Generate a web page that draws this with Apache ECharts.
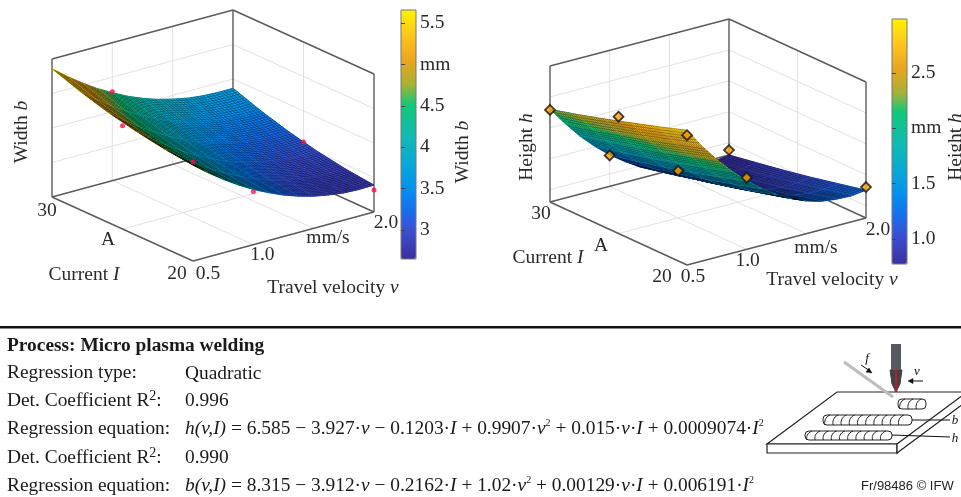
<!DOCTYPE html>
<html>
<head>
<meta charset="utf-8">
<style>html,body{margin:0;padding:0;background:#fff}#c{width:961px;height:497px}</style>
<script src="https://cdn.jsdelivr.net/npm/echarts@6/dist/echarts.min.js"></script>
</head>
<body>
<div id="c"></div>
<script>
// ---------- data ----------
const velocityGrid = [0.5,0.625,0.75,0.875,1,1.125,1.25,1.375,1.5,1.625,1.75,1.875,2];
const currentGrid = [20,22,24,26,28,30];
const widthRows = [
 [4.78,4.44,4.13,3.85,3.60,3.39,3.20,3.05,2.93,2.85,2.79,2.77,2.78],
 [4.87,4.53,4.22,3.94,3.69,3.48,3.29,3.14,3.03,2.94,2.88,2.86,2.87],
 [5.01,4.67,4.36,4.08,3.83,3.62,3.43,3.28,3.17,3.08,3.02,3.00,3.01],
 [5.19,4.85,4.54,4.27,4.02,3.81,3.62,3.47,3.36,3.27,3.22,3.19,3.20],
 [5.43,5.09,4.78,4.51,4.26,4.05,3.86,3.71,3.60,3.51,3.46,3.43,3.44],
 [5.72,5.38,5.07,4.79,4.55,4.33,4.15,4.00,3.89,3.80,3.75,3.73,3.73]
];
const heightRows = [
 [2.98,2.66,2.38,2.13,1.91,1.72,1.56,1.43,1.33,1.26,1.23,1.22,1.25],
 [2.83,2.52,2.24,1.99,1.77,1.59,1.43,1.31,1.21,1.15,1.12,1.12,1.15],
 [2.69,2.38,2.10,1.86,1.64,1.46,1.31,1.19,1.10,1.04,1.01,1.02,1.05],
 [2.55,2.25,1.98,1.73,1.52,1.35,1.20,1.08,0.99,0.94,0.92,0.92,0.96],
 [2.42,2.12,1.86,1.62,1.41,1.24,1.09,0.98,0.90,0.85,0.83,0.84,0.88],
 [2.30,2.01,1.74,1.51,1.31,1.14,0.99,0.89,0.81,0.76,0.74,0.76,0.80]
];
// measured points [v, I, value]
const widthPoints = [[1,30,4.58],[0.5,25,4.99],[0.5,20,4.87],[1,20,3.54],[2,25,3.10],[2,20,2.64]];
const heightPoints = [[0.5,30,2.29],[0.5,25,2.69],[0.5,20,2.90],[1,30,1.30],[1,25,1.56],[1,20,1.96],[2,30,0.88],[2,20,1.30]];
const velocityTicks = [0.5,1,1.5,2];
const velocityLabels = ['0.5','1.0',null,'2.0'];
const currentTicks = [20,25,30];
const currentLabels = ['20',null,'30'];
const widthZTicks = [3,4,5];
const heightZTicks = [1,1.5,2,2.5];
const widthBarTicks = [3,3.5,4,4.5,5,5.5];
const heightBarTicks = [1,1.5,2,2.5];

// ---------- colours ----------
const stopsCol = [[0,'#3b2f9e'],[0.12,'#3a50d4'],[0.2,'#1570ee'],[0.28,'#0090f0'],[0.38,'#08a8d8'],[0.5,'#10bcb0'],[0.62,'#10c878'],[0.7,'#a8b234'],[0.8,'#eba51e'],[0.9,'#ffc61e'],[1,'#fff200']];
function hexRgb(h){return [parseInt(h.substr(1,2),16),parseInt(h.substr(3,2),16),parseInt(h.substr(5,2),16)];}
function cmap(t){
  t=Math.max(0,Math.min(1,t));
  for(let i=1;i<stopsCol.length;i++){
    if(t<=stopsCol[i][0]){
      const a=stopsCol[i-1],b=stopsCol[i],k=(t-a[0])/(b[0]-a[0]);
      const A=hexRgb(a[1]),B=hexRgb(b[1]);
      return [A[0]+(B[0]-A[0])*k,A[1]+(B[1]-A[1])*k,A[2]+(B[2]-A[2])*k];
    }
  }
  return hexRgb('#fff200');
}
function css(c){return 'rgb('+c.map(x=>Math.round(x)).join(',')+')';}
const vmColors=[];for(let i=0;i<=50;i++){vmColors.push(css(cmap(i/50)));}

// ---------- 3-D frames ----------
const leftFrame = {F:[193,261],U:[181,-49],W:[-141,-64],H:138,zMin:2,zMax:6,cMin:2.65,cMax:5.66,rows:widthRows,zTicks:widthZTicks,
  offs:{i20:[-16,13],i30:[-5,14],v:[[15,13],[9,10],null,[12,11]]}};
const rightFrame = {F:[687,265],U:[179,-47],W:[-137,-63],H:136,zMin:0.8,zMax:3,cMin:0.774,cMax:2.988,rows:heightRows,zTicks:heightZTicks,
  offs:{i20:[-25,12],i30:[-9,12],v:[[6,12],[1,12],null,[12,12]]}};
function proj(f,v,I,z){
  const t=(v-0.5)/1.5,s=(I-20)/10,n=(z-f.zMin)/(f.zMax-f.zMin);
  return [f.F[0]+t*f.U[0]+s*f.W[0], f.F[1]+t*f.U[1]+s*f.W[1]-n*f.H];
}
function depth(f,v,I,z){return (v-0.5)/1.5+(I-20)/10-(z-f.zMin)/(f.zMax-f.zMin);}
function cells(f){
  const out=[];
  for(let r=0;r<currentGrid.length-1;r++)for(let c=0;c<velocityGrid.length-1;c++){
    const z=[f.rows[r][c],f.rows[r][c+1],f.rows[r+1][c+1],f.rows[r+1][c]];
    const mid=(z[0]+z[1]+z[2]+z[3])/4;
    const d=depth(f,(velocityGrid[c]+velocityGrid[c+1])/2,(currentGrid[r]+currentGrid[r+1])/2,mid);
    out.push({value:[r,c,mid],d});
  }
  out.sort((a,b)=>b.d-a.d);
  return out.map(o=>o.value);
}
// each data cell is shaded with a fine wire mesh, as the plot's surface is
const MESH_V=5,MESH_I=12;
function surface(f){
  return function(params,api){
    const r=api.value(0),c=api.value(1);
    const v0=velocityGrid[c],v1=velocityGrid[c+1],I0=currentGrid[r],I1=currentGrid[r+1];
    const z00=f.rows[r][c],z01=f.rows[r][c+1],z10=f.rows[r+1][c],z11=f.rows[r+1][c+1];
    const at=(a,b)=>{const v=v0+(v1-v0)*a,I=I0+(I1-I0)*b;
      const z=z00*(1-a)*(1-b)+z01*a*(1-b)+z10*(1-a)*b+z11*a*b;return {v,I,z};};
    const subs=[];
    for(let i=0;i<MESH_I;i++)for(let j=0;j<MESH_V;j++){
      const q=[at(j/MESH_V,i/MESH_I),at((j+1)/MESH_V,i/MESH_I),at((j+1)/MESH_V,(i+1)/MESH_I),at(j/MESH_V,(i+1)/MESH_I)];
      const mz=(q[0].z+q[1].z+q[2].z+q[3].z)/4;
      const mv=(q[0].v+q[2].v)/2,mI=(q[0].I+q[2].I)/2;
      subs.push({q,mz,d:depth(f,mv,mI,mz)});
    }
    subs.sort((a,b)=>b.d-a.d);
    const toXY=p=>api.coord(proj(f,p.v,p.I,p.z));
    const colOf=z=>css(cmap((z-f.cMin)/(f.cMax-f.cMin)));
    // opaque underlay stops the frame shining through the mesh seams
    const ch=[{type:'polygon',silent:true,shape:{points:[at(0,0),at(1,0),at(1,1),at(0,1)].map(toXY)},
      style:{fill:colOf(api.value(2)),stroke:colOf(api.value(2)),lineWidth:1}}];
    subs.forEach(s=>ch.push({type:'polygon',silent:true,shape:{points:s.q.map(toXY)},
      style:{fill:colOf(s.mz),stroke:'rgba(0,0,0,0.42)',lineWidth:0.55}}));
    return {type:'group',children:ch};
  };
}
const GRIDC='#e2e2e2',EDGE='#5a5a5a';
const FS='19.5px "Liberation Serif"',FSI='italic 19.5px "Liberation Serif"',TXT='#2a2a2a';
function backFrame(f){
  return function(params,api){
    const ch=[];
    const L=(a,b,col,w)=>{const A=api.coord(a),B=api.coord(b);ch.push({type:'line',shape:{x1:A[0],y1:A[1],x2:B[0],y2:B[1]},style:{stroke:col,lineWidth:w}});};
    const P=(v,I,z)=>proj(f,v,I,z);
    velocityTicks.slice(1,-1).forEach(v=>{L(P(v,30,f.zMin),P(v,30,f.zMax),GRIDC,1);L(P(v,20,f.zMin),P(v,30,f.zMin),GRIDC,1);});
    currentTicks.slice(1,-1).forEach(I=>{L(P(2,I,f.zMin),P(2,I,f.zMax),GRIDC,1);L(P(0.5,I,f.zMin),P(2,I,f.zMin),GRIDC,1);});
    f.zTicks.forEach(z=>{L(P(0.5,30,z),P(2,30,z),GRIDC,1);L(P(2,30,z),P(2,20,z),GRIDC,1);});
    const T=f.zMax,B=f.zMin;
    L(P(0.5,30,B),P(0.5,30,T),EDGE,1.4);L(P(2,30,B),P(2,30,T),EDGE,1.4);L(P(2,20,B),P(2,20,T),EDGE,1.4);
    L(P(0.5,30,T),P(2,30,T),EDGE,1.4);L(P(2,30,T),P(2,20,T),EDGE,1.4);
    L(P(0.5,30,B),P(2,30,B),EDGE,1.4);L(P(2,30,B),P(2,20,B),EDGE,1.4);
    L(P(0.5,30,B),P(0.5,20,B),EDGE,1.4);L(P(0.5,20,B),P(2,20,B),EDGE,1.4);
    const tx=(s,p,o)=>{const A=api.coord(p);ch.push({type:'text',x:A[0]+o[0],y:A[1]+o[1],style:{text:s,font:FS,fill:TXT,align:'center',verticalAlign:'middle'}});};
    currentTicks.forEach((I,i)=>{if(currentLabels[i])tx(currentLabels[i],P(0.5,I,B),I===20?f.offs.i20:f.offs.i30);});
    velocityTicks.forEach((v,i)=>{if(velocityLabels[i])tx(velocityLabels[i],P(v,20,B),f.offs.v[i]);});
    return {type:'group',children:ch};
  };
}
function customSurface(f,name){
  return {type:'custom',name,xAxisIndex:0,yAxisIndex:0,silent:true,z:3,clip:false,progressive:0,
    encode:{x:-1,y:-1},data:cells(f),renderItem:surface(f),dimensions:['r','c','z']};
}
function frameSeries(f){
  return {type:'custom',xAxisIndex:0,yAxisIndex:0,silent:true,z:2,clip:false,encode:{x:-1,y:-1},data:[[0]],renderItem:backFrame(f)};
}
const FONT='"Liberation Serif"';
function label(x,y,text,extra){
  return Object.assign({type:'text',x,y,z:20,style:{text,font:FS,fill:TXT,align:'center',verticalAlign:'middle',
    rich:{i:{font:FSI,fill:TXT}}}},extra||{});
}
function rot(x,y,text){return label(x,y,text,{rotation:Math.PI/2});}
const LF='19.4px '+FONT;
function line(x,y,text,bold){
  return {type:'text',x,y:y+0.5,z:20,style:{text,font:(bold?'bold ':'')+LF,fill:'#1a1a1a',align:'left',verticalAlign:'middle',
    rich:{n:{font:LF,fill:'#1a1a1a'},i:{font:'italic 19.4px '+FONT,fill:'#1a1a1a'},
      s:{font:'10px '+FONT,fill:'#1a1a1a',padding:[0,0,10,0]},r:{font:'14px '+FONT,fill:'#1a1a1a',padding:[0,0,8,0]}}}};
}
function seg(a,b,col,w){return {type:'line',z:20,shape:{x1:a[0],y1:a[1],x2:b[0],y2:b[1]},style:{stroke:col||'#111',lineWidth:w||1}};}
function poly(pts,fill,stroke,w){return {type:'polygon',z:20,shape:{points:pts},style:{fill:fill||'#fff',stroke:stroke||'#111',lineWidth:w||1.2}};}
function bead(x0,x1,y0,y1){
  const a=[{type:'rect',z:20,shape:{x:x0,y:y0,width:x1-x0,height:y1-y0,r:4},style:{fill:'#fff',stroke:'#222',lineWidth:1}}];
  for(let x=x0+7;x<x1-2;x+=8.2){a.push({type:'bezierCurve',z:20,shape:{x1:x,y1:y0,cpx1:x-5,cpy1:y0+2,cpx2:x-6,cpy2:y1-3,x2:x-5,y2:y1},style:{stroke:'#222',lineWidth:1,fill:null}});}
  return a;
}
const schematic=[
  poly([[767,444],[837,392],[975,392],[897,444]],'#fff','#222',1.2),
  poly([[767,444],[897,444],[897,453],[767,453]],'#fff','#222',1.2),
  poly([[897,444],[975,386],[975,395],[897,453]],'#fff','#222',1.2),
  ...bead(898,926,399,409),...bead(823,912,415,425),...bead(805,892,431,440),
  seg([844,362],[893,397],'#bdbdbd',3),
  {type:'rect',z:21,shape:{x:891,y:344,width:10,height:26},style:{fill:'#565a60'}},
  poly([[890,370],[902,370],[900,384],[896,392],[892,384]],'#3f4247','#3f4247',1),
  seg([896,392],[896,360],'#a8242c',2.4),
  poly([[893,362],[899,362],[896,357]],'#a8242c','#a8242c',0.5),
  seg([861,365],[870,371]),poly([[872,373],[866,372],[869,368]],'#111','#111',0.5),
  seg([923,381],[912,381]),poly([[908,381],[913,378.5],[913,383.5]],'#111','#111',0.5),
  seg([912,420],[950,420]),seg([892,435],[950,437]),
  {type:'text',z:21,x:867,y:359,style:{text:'f',font:'italic 13px '+FONT,fill:'#111',align:'center',verticalAlign:'middle'}},
  {type:'text',z:21,x:917,y:372,style:{text:'v',font:'italic 13px '+FONT,fill:'#111',align:'center',verticalAlign:'middle'}},
  {type:'text',z:21,x:955,y:421,style:{text:'b',font:'italic 13px '+FONT,fill:'#111',align:'center',verticalAlign:'middle'}},
  {type:'text',z:21,x:955,y:439,style:{text:'h',font:'italic 13px '+FONT,fill:'#111',align:'center',verticalAlign:'middle'}}
];
const texts=[
  rot(22,132,'Width {i|b}'),rot(463,152,'Width {i|b}'),
  label(84,275,'Current {i|I}'),label(108,240,'A'),label(328,238,'mm/s'),label(333,288,'Travel velocity {i|v}'),
  rot(527,147,'Height {i|h}'),rot(956,147,'Height {i|h}'),
  label(548,258,'Current {i|I}'),label(601,246,'A'),label(816,248,'mm/s'),label(832,280,'Travel velocity {i|v}'),
  {type:'rect',z:20,shape:{x:0,y:326,width:961,height:2.4},style:{fill:'#111'}},
  line(7,345,'Process: Micro plasma welding',true),
  line(7,372,'{n|Regression type:}'),line(185,373,'{n|Quadratic}'),
  line(7,400,'{n|Det. Coefficient R}{r|2}{n|:}'),line(185,400,'{n|0.996}'),
  line(7,428,'{n|Regression equation:}'),
  line(185,428,'{i|h(v,I)}{n| = 6.585 − 3.927·}{i|v}{n| − 0.1203·}{i|I}{n| + 0.9907·}{i|v}{s|2}{n| + 0.015·}{i|v}{n|·}{i|I}{n| + 0.0009074·}{i|I}{s|2}'),
  line(7,457,'{n|Det. Coefficient R}{r|2}{n|:}'),line(185,457,'{n|0.990}'),
  line(7,485,'{n|Regression equation:}'),
  line(185,485,'{i|b(v,I)}{n| = 8.315 − 3.912·}{i|v}{n| − 0.2162·}{i|I}{n| + 1.02·}{i|v}{s|2}{n| + 0.00129·}{i|v}{n|·}{i|I}{n| + 0.006191·}{i|I}{s|2}'),
  {type:'text',z:20,x:861,y:486,style:{text:'Fr/98486 © IFW',font:'13px "Liberation Sans"',fill:'#222',align:'left',verticalAlign:'middle'}},
  {type:'rect',z:30,shape:{x:401,y:10,width:15,height:249},style:{fill:null,stroke:'#777',lineWidth:1}},
  {type:'rect',z:30,shape:{x:892,y:19,width:15,height:245},style:{fill:null,stroke:'#777',lineWidth:1}}
];
function barAxis(grid,min,max,ticks){
  return {type:'value',gridIndex:grid,position:'right',min,max,z:40,
    axisLine:{show:false},splitLine:{show:false},
    axisTick:{show:true,inside:false,length:4,customValues:ticks,lineStyle:{color:'#444'}},
    axisLabel:{show:true,customValues:ticks,margin:4,color:TXT,fontFamily:'Liberation Serif',fontSize:19.5,
      formatter:function(v){if(v===5&&max>4)return 'mm';if(v===2&&max<4)return 'mm';return v%1===0&&max>4?String(v):(v%1===0?v.toFixed(1):String(v));}}};
}
const option={
  animation:false,backgroundColor:'#fff',
  grid:[
    {left:0,top:0,width:961,height:497},
    {left:401,top:10,width:15,height:249},
    {left:892,top:19,width:15,height:245}
  ],
  xAxis:[
    {type:'value',gridIndex:0,min:0,max:961,show:false},
    {type:'value',gridIndex:1,min:0,max:1,show:false},
    {type:'value',gridIndex:2,min:0,max:1,show:false}
  ],
  yAxis:[
    {type:'value',gridIndex:0,min:0,max:497,inverse:true,show:false},
    barAxis(1,2.65,5.66,widthBarTicks),
    barAxis(2,0.774,2.988,heightBarTicks)
  ],
  visualMap:[
    {type:'continuous',seriesIndex:1,dimension:2,min:2.65,max:5.66,left:401,top:10,itemWidth:15,itemHeight:249,padding:0,calculable:false,realtime:false,inRange:{color:vmColors},text:null,showLabel:false,hoverLink:false},
    {type:'continuous',seriesIndex:3,dimension:2,min:0.774,max:2.988,left:892,top:19,itemWidth:15,itemHeight:245,padding:0,calculable:false,realtime:false,inRange:{color:vmColors},text:null,showLabel:false,hoverLink:false}
  ],
  graphic:{elements:[...texts,...schematic]},
  series:[
    frameSeries(leftFrame),
    customSurface(leftFrame,'Width b'),
    frameSeries(rightFrame),
    customSurface(rightFrame,'Height h'),
    {type:'scatter',name:'Width points',xAxisIndex:0,yAxisIndex:0,z:5,silent:true,symbol:'circle',symbolSize:5,clip:false,
      itemStyle:{color:'#ff0a48'},data:widthPoints.map(p=>proj(leftFrame,p[0],p[1],p[2]))},
    {type:'scatter',name:'Height points',xAxisIndex:0,yAxisIndex:0,z:5,silent:true,symbol:'diamond',symbolSize:10,clip:false,
      itemStyle:{color:'#ff9d00',borderColor:'#111',borderWidth:1.8},data:heightPoints.map(p=>proj(rightFrame,p[0],p[1],p[2]))}
  ]
};
const chart=echarts.init(document.getElementById('c'),null,{renderer:'canvas'});
chart.setOption(option);
</script>
</body>
</html>
